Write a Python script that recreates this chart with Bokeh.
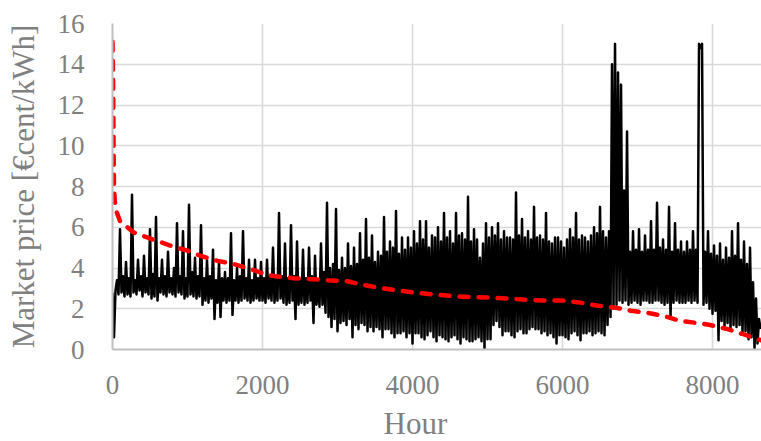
from bokeh.plotting import figure
from bokeh.embed import file_html
from bokeh.resources import INLINE
from bokeh.models import FixedTicker, Title

# ---- data ----
hour_step = 20
price = [
    # 0 - 380
    2.8, 0.6, 2.9, 3.4, 2.7, 5.9, 2.8, 3.6, 2.6, 4.3, 2.7, 3.5, 2.6, 7.6, 2.8, 3.4, 2.7, 4.4, 2.9, 3.6,
    # 400 - 780
    2.6, 4.6, 2.8, 3.5, 2.7, 5.9, 2.5, 3.7, 2.6, 6.5, 2.4, 3.5, 2.8, 4.4, 2.7, 3.6, 2.6, 4.8, 2.8, 3.5,
    # 800 - 1180
    2.7, 4.0, 2.6, 6.2, 2.8, 3.6, 2.7, 5.8, 2.5, 3.5, 2.6, 7.1, 2.7, 3.8, 2.6, 4.5, 2.5, 3.6, 2.6, 6.1,
    # 1200 - 1580
    2.2, 3.5, 2.4, 4.4, 2.3, 3.6, 2.5, 4.9, 1.5, 3.4, 2.3, 4.3, 1.6, 3.5, 2.4, 3.8, 2.3, 3.5, 2.4, 5.7,
    # 1600 - 1980
    1.7, 3.4, 2.4, 4.0, 2.3, 3.6, 2.4, 5.8, 2.5, 3.5, 2.4, 4.4, 2.3, 3.4, 2.4, 4.4, 2.5, 3.5, 2.4, 4.3,
    # 2000 - 2380
    2.4, 3.5, 2.3, 4.4, 2.5, 3.6, 2.4, 5.0, 2.3, 3.5, 2.4, 6.7, 2.5, 3.6, 2.3, 5.2, 2.2, 3.5, 2.3, 6.1,
    # 2400 - 2780
    2.4, 3.6, 1.5, 5.3, 2.2, 3.4, 2.3, 4.9, 2.2, 3.5, 2.3, 5.0, 2.4, 3.6, 1.3, 4.6, 2.2, 3.4, 2.1, 5.2,
    # 2800 - 3180
    2.2, 3.8, 1.8, 7.2, 1.6, 4.0, 1.1, 4.2, 1.5, 6.9, 0.9, 3.9, 1.3, 4.5, 1.4, 4.0, 1.2, 5.2, 1.5, 4.1,
    # 3200 - 3580
    0.6, 5.0, 1.2, 4.2, 1.0, 5.7, 1.3, 4.4, 1.2, 6.4, 0.9, 4.5, 1.1, 5.6, 0.9, 4.3, 1.1, 4.8, 1.0, 4.6,
    # 3600 - 3980
    0.6, 6.5, 1.0, 4.8, 1.0, 5.3, 0.8, 5.0, 0.6, 6.8, 0.8, 4.7, 0.8, 5.5, 0.9, 4.9, 0.6, 5.5, 0.8, 5.0,
    # 4000 - 4380
    0.3, 5.8, 0.8, 5.2, 0.8, 6.3, 0.6, 5.4, 0.5, 6.3, 0.7, 5.0, 0.9, 5.6, 0.6, 5.5, 0.4, 6.0, 0.7, 5.3,
    # 4400 - 4780
    0.6, 6.7, 0.5, 5.5, 0.4, 5.8, 0.6, 5.2, 0.7, 6.7, 0.5, 5.6, 0.3, 5.7, 0.6, 5.4, 0.5, 7.5, 0.4, 5.3,
    # 4800 - 5180
    0.4, 5.9, 0.5, 5.4, 0.6, 4.5, 0.4, 5.2, 0.05, 6.2, 0.5, 5.5, 0.5, 6.0, 1.2, 5.6, 1.4, 6.2, 1.1, 5.4,
    # 5200 - 5580
    0.7, 5.8, 0.9, 5.5, 0.9, 5.5, 0.7, 5.4, 0.6, 7.7, 0.9, 5.6, 1.0, 6.4, 0.8, 5.5, 0.8, 5.8, 1.0, 5.4,
    # 5600 - 5980
    1.1, 7.0, 1.0, 5.5, 1.0, 5.6, 0.8, 5.4, 0.9, 6.7, 0.7, 5.3, 0.8, 5.2, 0.6, 5.5, 0.3, 5.5, 0.7, 5.3,
    # 6000 - 6380
    0.7, 5.0, 0.6, 5.4, 0.5, 5.9, 0.8, 5.5, 0.9, 6.7, 0.7, 5.4, 0.45, 5.6, 0.8, 5.5, 0.8, 5.3, 0.9, 5.6,
    # 6400 - 6780
    0.7, 6.0, 0.8, 5.7, 0.9, 7.0, 0.8, 5.8, 0.7, 5.5, 1.2, 5.8, 1.6, 14.0, 2.0, 15.0, 2.2, 13.6, 2.4, 13.0,
    # 6800 - 7180
    2.3, 7.8, 2.4, 10.7, 2.2, 4.8, 2.3, 5.8, 2.4, 4.9, 2.3, 5.9, 2.2, 4.8, 2.4, 5.6, 2.4, 4.9, 2.3, 6.3,
    # 7200 - 7580
    2.3, 4.9, 2.4, 7.2, 2.4, 5.0, 2.3, 5.4, 2.2, 4.9, 2.3, 7.0, 1.6, 4.8, 2.3, 6.2, 2.4, 4.9, 2.3, 5.3,
    # 7600 - 7980
    2.3, 4.8, 2.3, 5.3, 2.4, 4.9, 2.3, 5.8, 2.4, 4.9, 2.3, 15.0, 14.8, 15.0, 2.2, 4.8, 2.3, 5.8, 2.0, 4.7,
    # 8000 - 8380
    1.75, 5.1, 1.9, 4.6, 0.45, 5.2, 1.4, 4.4, 1.1, 5.0, 1.3, 4.5, 1.0, 5.8, 1.2, 4.6, 1.1, 6.2, 1.2, 4.4,
    # 8400 - 8640
    0.8, 5.3, 0.9, 4.2, 0.5, 5.0, 0.6, 3.3, 0.05, 2.5, 0.3, 1.5, 1.0,
]
hours = [i * hour_step for i in range(len(price))]

duration_hours = [0, 5, 10, 15, 20, 30, 50, 100, 280, 500, 770, 1000, 1170, 1400,
                  1610, 1880, 2070, 2170, 2410, 2670, 2870, 3130, 3370, 3600, 3800,
                  4010, 4280, 4600, 5000, 5270, 5480, 5750, 6010, 6240, 6470, 6710,
                  6910, 7130, 7350, 7570, 7800, 7970, 8200, 8410, 8610, 8650]
duration_price = [15.1, 14.0, 12.2, 9.5, 8.0, 7.3, 6.8, 6.3, 5.75, 5.45, 5.1, 4.85,
                  4.6, 4.35, 4.2, 3.9, 3.65, 3.6, 3.5, 3.45, 3.4, 3.35, 3.15, 3.0,
                  2.9, 2.8, 2.7, 2.6, 2.55, 2.5, 2.45, 2.4, 2.4, 2.3, 2.15, 2.05,
                  1.9, 1.8, 1.65, 1.4, 1.3, 1.2, 1.0, 0.75, 0.5, 0.45]

x_ticks = [0, 2000, 4000, 6000, 8000]
y_ticks = [0, 2, 4, 6, 8, 10, 12, 14, 16]

FONT = "Liberation Serif"
GRAY = "#808080"

p = figure(width=761, height=441, output_backend="svg", toolbar_location=None,
           x_range=(0, 8653), y_range=(0, 16),
           min_border_left=112, min_border_right=0, min_border_top=23,
           min_border_bottom=92)
p.outline_line_color = None
p.background_fill_color = "white"
p.border_fill_color = "white"

p.line(hours, price, line_color="black", line_width=2.5, line_join="round")
p.line(duration_hours, duration_price, line_color="#ff0000", line_width=4.5,
       line_dash="9 10", line_cap="round")

for ax in (p.xaxis[0], p.yaxis[0]):
    ax.major_tick_line_color = None
    ax.minor_tick_line_color = None
    ax.axis_line_color = "#bfbfbf"
    ax.axis_line_width = 2
    ax.major_label_text_font = FONT
    ax.major_label_text_font_size = "27px"
    ax.major_label_text_color = GRAY
    ax.axis_label_text_font = FONT
    ax.axis_label_text_font_size = "31px"
    ax.axis_label_text_font_style = "normal"
    ax.axis_label_text_color = GRAY

p.xaxis.ticker = FixedTicker(ticks=x_ticks)
p.yaxis.ticker = FixedTicker(ticks=y_ticks)
p.xaxis.major_label_standoff = 20
p.yaxis.major_label_standoff = 22
p.yaxis.axis_label = "Market price [€cent/kWh]"
p.yaxis.axis_label_standoff = 14

p.xgrid.ticker = FixedTicker(ticks=x_ticks)
p.ygrid.ticker = FixedTicker(ticks=y_ticks)
p.grid.grid_line_color = "#d9d9d9"
p.grid.grid_line_width = 1.6

# small spacer panel so the x title sits a little lower
p.add_layout(Title(text=" ", text_font=FONT, text_font_size="4px", standoff=0), "below")
p.add_layout(Title(text="Hour", align="left", offset=271, text_font=FONT,
                   text_font_size="31px", text_font_style="normal",
                   text_color=GRAY, standoff=0), "below")

open("out.html", "w").write(file_html(p, INLINE))
